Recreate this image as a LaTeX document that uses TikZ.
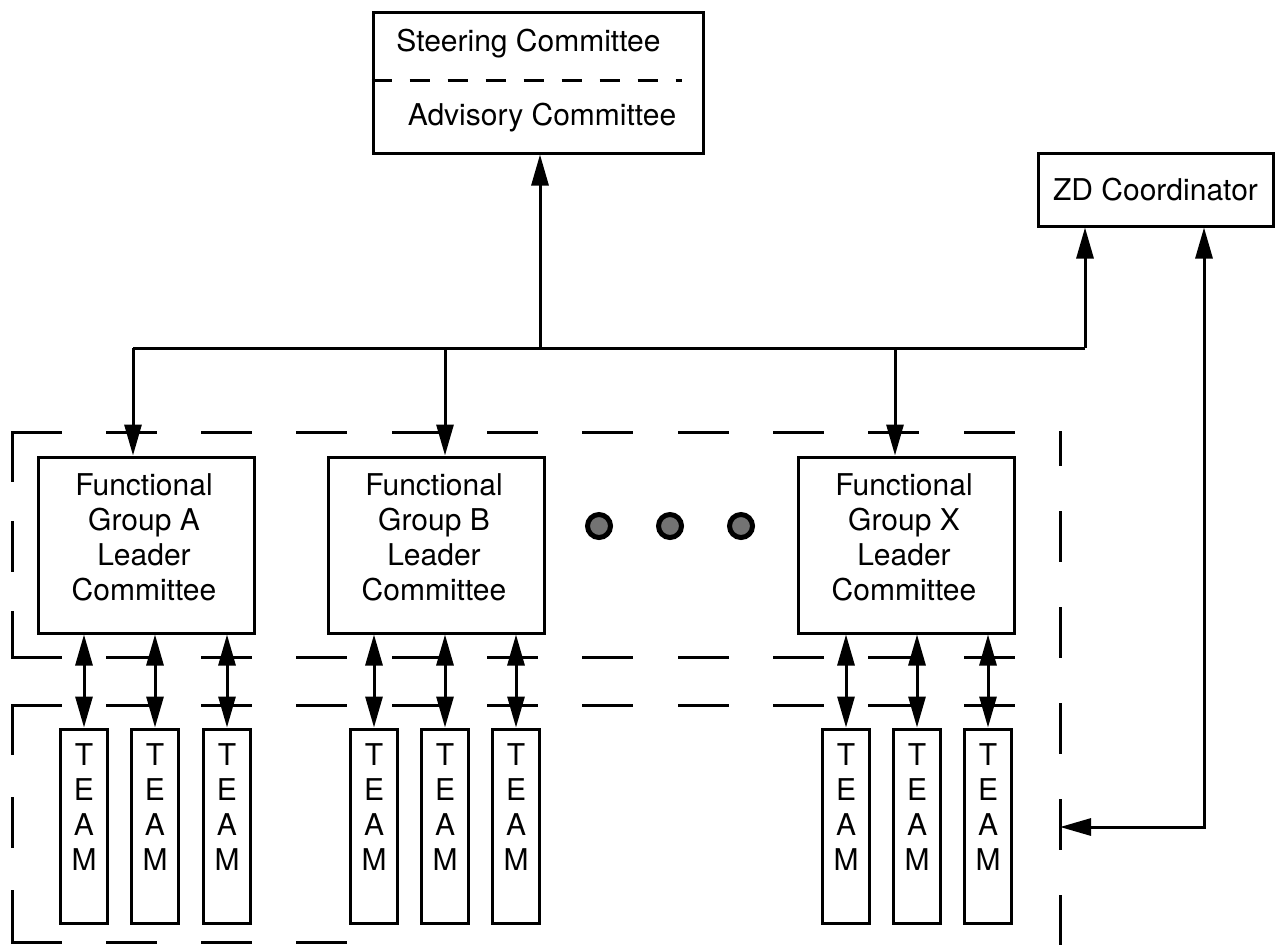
\documentclass[tikz,border=0pt]{standalone}
\usepackage{fontspec}
\setmainfont{TeX Gyre Heros}
\usetikzlibrary{arrows.meta}

\begin{document}
\begin{tikzpicture}[x=0.5pt,y=-0.5pt,
  line width=1.5pt,
  font=\fontsize{15}{17.5}\selectfont,
  frame/.style={draw, line width=1.5pt, inner sep=0pt},
  fgroup/.style={frame, minimum width=108pt, minimum height=88pt},
  grouptxt/.style={align=center, inner sep=0pt},
  teambox/.style={frame, minimum width=23.5pt, minimum height=97pt},
  teamtxt/.style={align=center, inner sep=0pt},
  arr/.style={-{Triangle[length=15.5pt,width=8.5pt]}},
  darr/.style={{Triangle[length=15.5pt,width=8.5pt]}-{Triangle[length=15.5pt,width=8.5pt]}},
  border/.style={line width=1.5pt, line cap=rect},
  dot/.style={circle, draw, line width=2.5pt, fill=black!55, minimum size=11.5pt, inner sep=0pt}
]
\useasboundingbox (0,0) rectangle (1278,944);

% --- top: steering / advisory committee
\node[frame, minimum width=165pt, minimum height=70.5pt] (steer) at (538,82.5) {};
\node (steertxt) at (528.5,44) {Steering Committee};
\node (advtxt) at (542,118) {Advisory Committee};
\draw[line width=1.5pt, dash pattern=on 10pt off 9pt] (steer.west |- 0,80) -- (682,80);

% --- ZD coordinator
\node[frame, minimum width=117.5pt, minimum height=36.5pt] (zd) at (1155.5,189.5) {ZD Coordinator};

% --- functional groups
\node[fgroup] (fa) at (146.5,545) {};
\node[fgroup] (fb) at (436,545) {};
\node[fgroup] (fx) at (906.5,545) {};
\node[grouptxt] (fatxt) at (144,537) {Functional\\Group A\\Leader\\Committee};
\node[grouptxt] (fbtxt) at (434,537) {Functional\\Group B\\Leader\\Committee};
\node[grouptxt] (fxtxt) at (904,537) {Functional\\Group X\\Leader\\Committee};

% --- ellipsis dots between groups
\node[dot] (d1) at (599,526) {};
\node[dot] (d2) at (670,526) {};
\node[dot] (d3) at (741,526) {};

% --- team columns
\foreach \n/\x in {a1/84,a2/155,a3/227,b1/374,b2/445,b3/516,x1/846,x2/917,x3/988}{
  \node[teambox] (t\n) at (\x,826) {};
  \node[teamtxt] (t\n txt) at (\x,807) {T\\E\\A\\M};
}

% --- distribution bus
\coordinate (hl) at (133,348);
\coordinate (hb) at (445,348);
\coordinate (hub) at (540,348);
\coordinate (hx) at (895,348);
\coordinate (hr) at (1085,348);
\draw (hl) -- (hr);
\draw[arr] (hub) -- (hub |- steer.south);
\draw[arr] (hr) -- (hr |- zd.south);
\draw[arr] (hl) -- (hl |- fa.north);
\draw[arr] (hb) -- (hb |- fb.north);
\draw[arr] (hx) -- (hx |- fx.north);

% --- coordinator link to the team area
\coordinate (zc) at (1204,827);
\coordinate (ze) at (1060,827);
\draw[darr] (ze) -- (zc) -- (zc |- zd.south);

% --- leader committees to teams
\foreach \n/\g in {a1/fa,a2/fa,a3/fa,b1/fb,b2/fb,b3/fb,x1/fx,x2/fx,x3/fx}{
  \draw[darr] (t\n |- \g.south) -- (t\n.north);
}

% --- dashed boundaries of the group and team areas
\draw[border, dash pattern=on 24pt off 23.65pt] (12,432) -- (1013,432);
\draw[border, dash pattern=on 24pt off 23.65pt] (12,657) -- (1013,657);
\draw[border, dash pattern=on 24pt off 23.65pt] (12,705) -- (1013,705);
\draw[border, dash pattern=on 24pt off 23.65pt] (12,942) -- (349,942);
\draw[border, dash pattern=on 24pt off 21pt] (12,432) -- (12,657);
\draw[border, dash pattern=on 24pt off 22.5pt] (12,705) -- (12,942);
\draw[border, dash pattern=on 24pt off 24pt] (1060,944) -- (1060,432);
\end{tikzpicture}
\end{document}
